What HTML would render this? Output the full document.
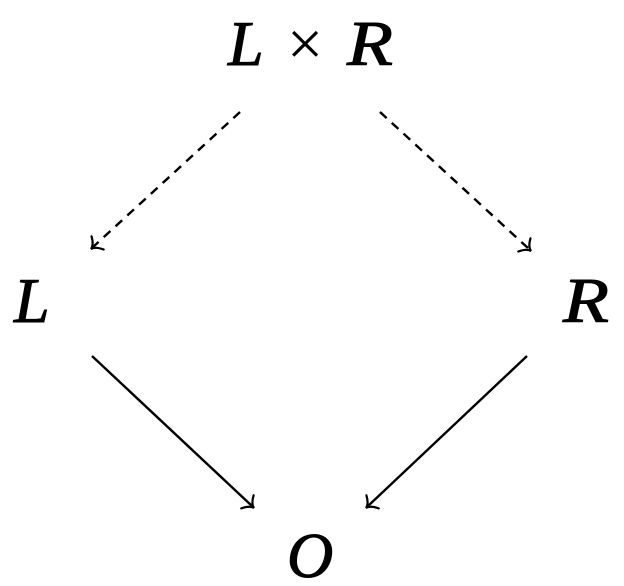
<!DOCTYPE html>
<html><head><style>html,body{margin:0;padding:0;background:#fff}svg{display:block}
text{font-family:"Liberation Serif","DejaVu Serif",serif;font-size:64px;stroke:#000;stroke-width:1}
.i{font-style:italic}</style></head>
<body>
<svg width="624" height="586" viewBox="0 0 624 586" xmlns="http://www.w3.org/2000/svg">
<g fill="#000">
<text x="228" y="65" class="i">L</text>
<text x="287" y="65" style="stroke-width:0">×</text>
<text x="347" y="65" class="i" textLength="46" lengthAdjust="spacingAndGlyphs">R</text>
<text x="14" y="322" class="i">L</text>
<text x="563" y="322" class="i" textLength="46" lengthAdjust="spacingAndGlyphs">R</text>
<text x="287" y="577" class="i">O</text>
</g>
<g stroke="#000" stroke-width="2.4" fill="none">
<line x1="240" y1="112" x2="93" y2="247" stroke-dasharray="9,7"/>
<line x1="380" y1="112" x2="529" y2="249" stroke-dasharray="9,7"/>
<line x1="92" y1="356" x2="252" y2="506"/>
<line x1="527" y1="356" x2="368" y2="506"/>
<g stroke-width="2.2" stroke-linecap="round">
<path d="M-9,-9 Q-5,-1 0,0 Q-5,1 -9,9" transform="translate(91,249) rotate(137.4)"/>
<path d="M-9,-9 Q-5,-1 0,0 Q-5,1 -9,9" transform="translate(531,251) rotate(42.6)"/>
<path d="M-9,-9 Q-5,-1 0,0 Q-5,1 -9,9" transform="translate(254,508) rotate(43.2)"/>
<path d="M-9,-9 Q-5,-1 0,0 Q-5,1 -9,9" transform="translate(366,508) rotate(136.8)"/>
</g>
</g>
</svg>
</body></html>
